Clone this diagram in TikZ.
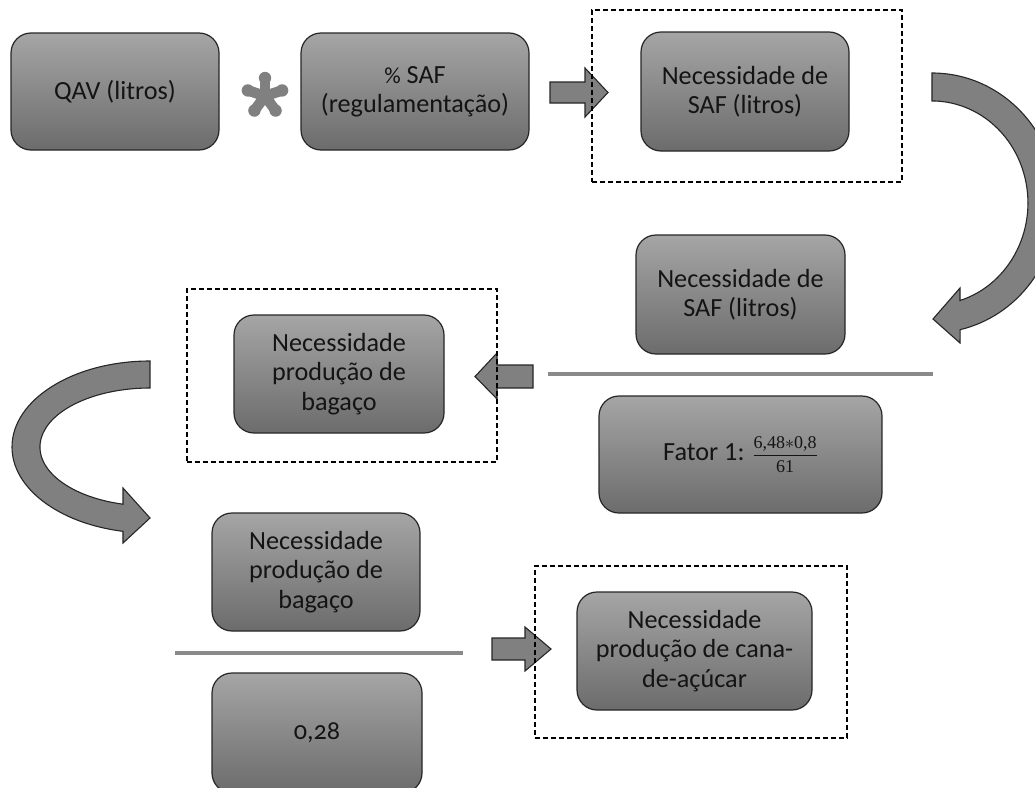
\documentclass[tikz,border=0pt]{standalone}
\usepackage{unicode-math}
\setmainfont{Carlito}
\newfontfamily\osf{Carlito}[Numbers=OldStyle]
\newfontfamily\fracserif{Liberation Serif}
\definecolor{boxtop}{RGB}{165,165,165}
\definecolor{boxbot}{RGB}{108,108,108}
\definecolor{edge}{RGB}{38,38,38}
\definecolor{arrowfill}{RGB}{128,128,128}
\definecolor{rulegray}{RGB}{138,138,138}
\definecolor{astgray}{RGB}{128,128,128}
\definecolor{ink}{RGB}{20,20,20}
\tikzset{
  box/.style={draw=edge, line width=1.2pt, rounded corners=20pt, top color=boxtop, bottom color=boxbot,
    align=center, text=ink, font=\fontsize{26.2}{29.5}\selectfont, inner sep=0pt},
  frame/.style={draw=black, line width=1.4pt, dash pattern=on 5pt off 3pt, inner sep=0pt},
  blockarrow/.style={draw=edge, line width=1.1pt, fill=arrowfill, line join=miter},
  rule/.style={draw=rulegray, line width=4pt},
  petal/.style={draw=astgray, line width=10.5pt, line cap=round},
  petaltip/.style={fill=astgray}
}
\begin{document}
\begin{tikzpicture}[x=1pt,y=-1pt]
\useasboundingbox (0,0) rectangle (1035,787);
\clip (0,0) rectangle (1035,787);

% boxes
\node[box, minimum width=208, minimum height=117] (qav) at (115,91.5) {QAV (litros)};
\node[box, minimum width=228, minimum height=117] (pct) at (415,91.5) {{\fontsize{23}{29.5}\selectfont\%}~SAF\\(regulamentação)};
\node[box, minimum width=208, minimum height=119] (saf1) at (745,91.5) {Necessidade de\\SAF (litros)};
\node[box, minimum width=209, minimum height=119] (saf2) at (740.5,294.5) {Necessidade de\\SAF (litros)};
\node[box, minimum width=283, minimum height=117] (fat) at (740.5,454.5)
  {Fator 1: {\fontsize{18}{22}\selectfont$\displaystyle\frac{\mbox{\fracserif 6,48}{\ast}\mbox{\fracserif 0,8}}{\mbox{\fracserif 61}}$}};
\node[box, minimum width=210, minimum height=118] (bag1) at (339,374) {Necessidade\\produção de\\bagaço};
\node[box, minimum width=208, minimum height=118] (bag2) at (316,572) {Necessidade\\produção de\\bagaço};
\node[box, minimum width=210, minimum height=120] (div) at (317,733) {{\osf 0,28}};
\node[box, minimum width=235, minimum height=118] (cana) at (694.5,651) {Necessidade\\produção de cana-\\de-açúcar};

% asterisk
\coordinate (star) at (265,96);
\foreach \a in {-90,-18,54,126,198} {
  \draw[petal] (star) -- ++(\a:17);
  \fill[petaltip] (star) ++(\a:18) circle[radius=6.2];
}

% division rules
\coordinate (r1a) at (548,374); \coordinate (r1b) at (933,374);
\draw[rule] (r1a) -- (r1b);
\coordinate (r2a) at (175,653); \coordinate (r2b) at (463,653);
\draw[rule] (r2a) -- (r2b);

% straight block arrows
\draw[blockarrow] (550,82) -- (585,82) -- (585,68) -- (608,92.5) -- (585,117) -- (585,103) -- (550,103) -- cycle;
\draw[blockarrow] (533,365) -- (497,365) -- (497,353) -- (475,376.5) -- (497,399) -- (497,388) -- (533,388) -- cycle;
\draw[blockarrow] (492,638) -- (525,638) -- (525,627) -- (551,649) -- (525,671) -- (525,660) -- (492,660) -- cycle;

% curved block arrows
\draw[blockarrow] (932,73) arc[start angle=-90, end angle=77, x radius=125, y radius=130]
  -- (960,343) -- (933,319) -- (960,288) -- (960,300.5)
  arc[start angle=73, end angle=-90, x radius=96, y radius=102] -- cycle;
\draw[blockarrow] (150,361) arc[start angle=-90, end angle=-258.7, x radius=138, y radius=86]
  -- (123,543) -- (150,518) -- (123,488) -- (123,504.2)
  arc[start angle=-255.8, end angle=-90, x radius=110, y radius=59] -- cycle;

% dashed frames
\node[frame, minimum width=310, minimum height=172] (f1) at (747,96) {};
\node[frame, minimum width=310, minimum height=173] (f2) at (342,375.5) {};
\node[frame, minimum width=312, minimum height=172] (f3) at (691,652) {};
\end{tikzpicture}
\end{document}
